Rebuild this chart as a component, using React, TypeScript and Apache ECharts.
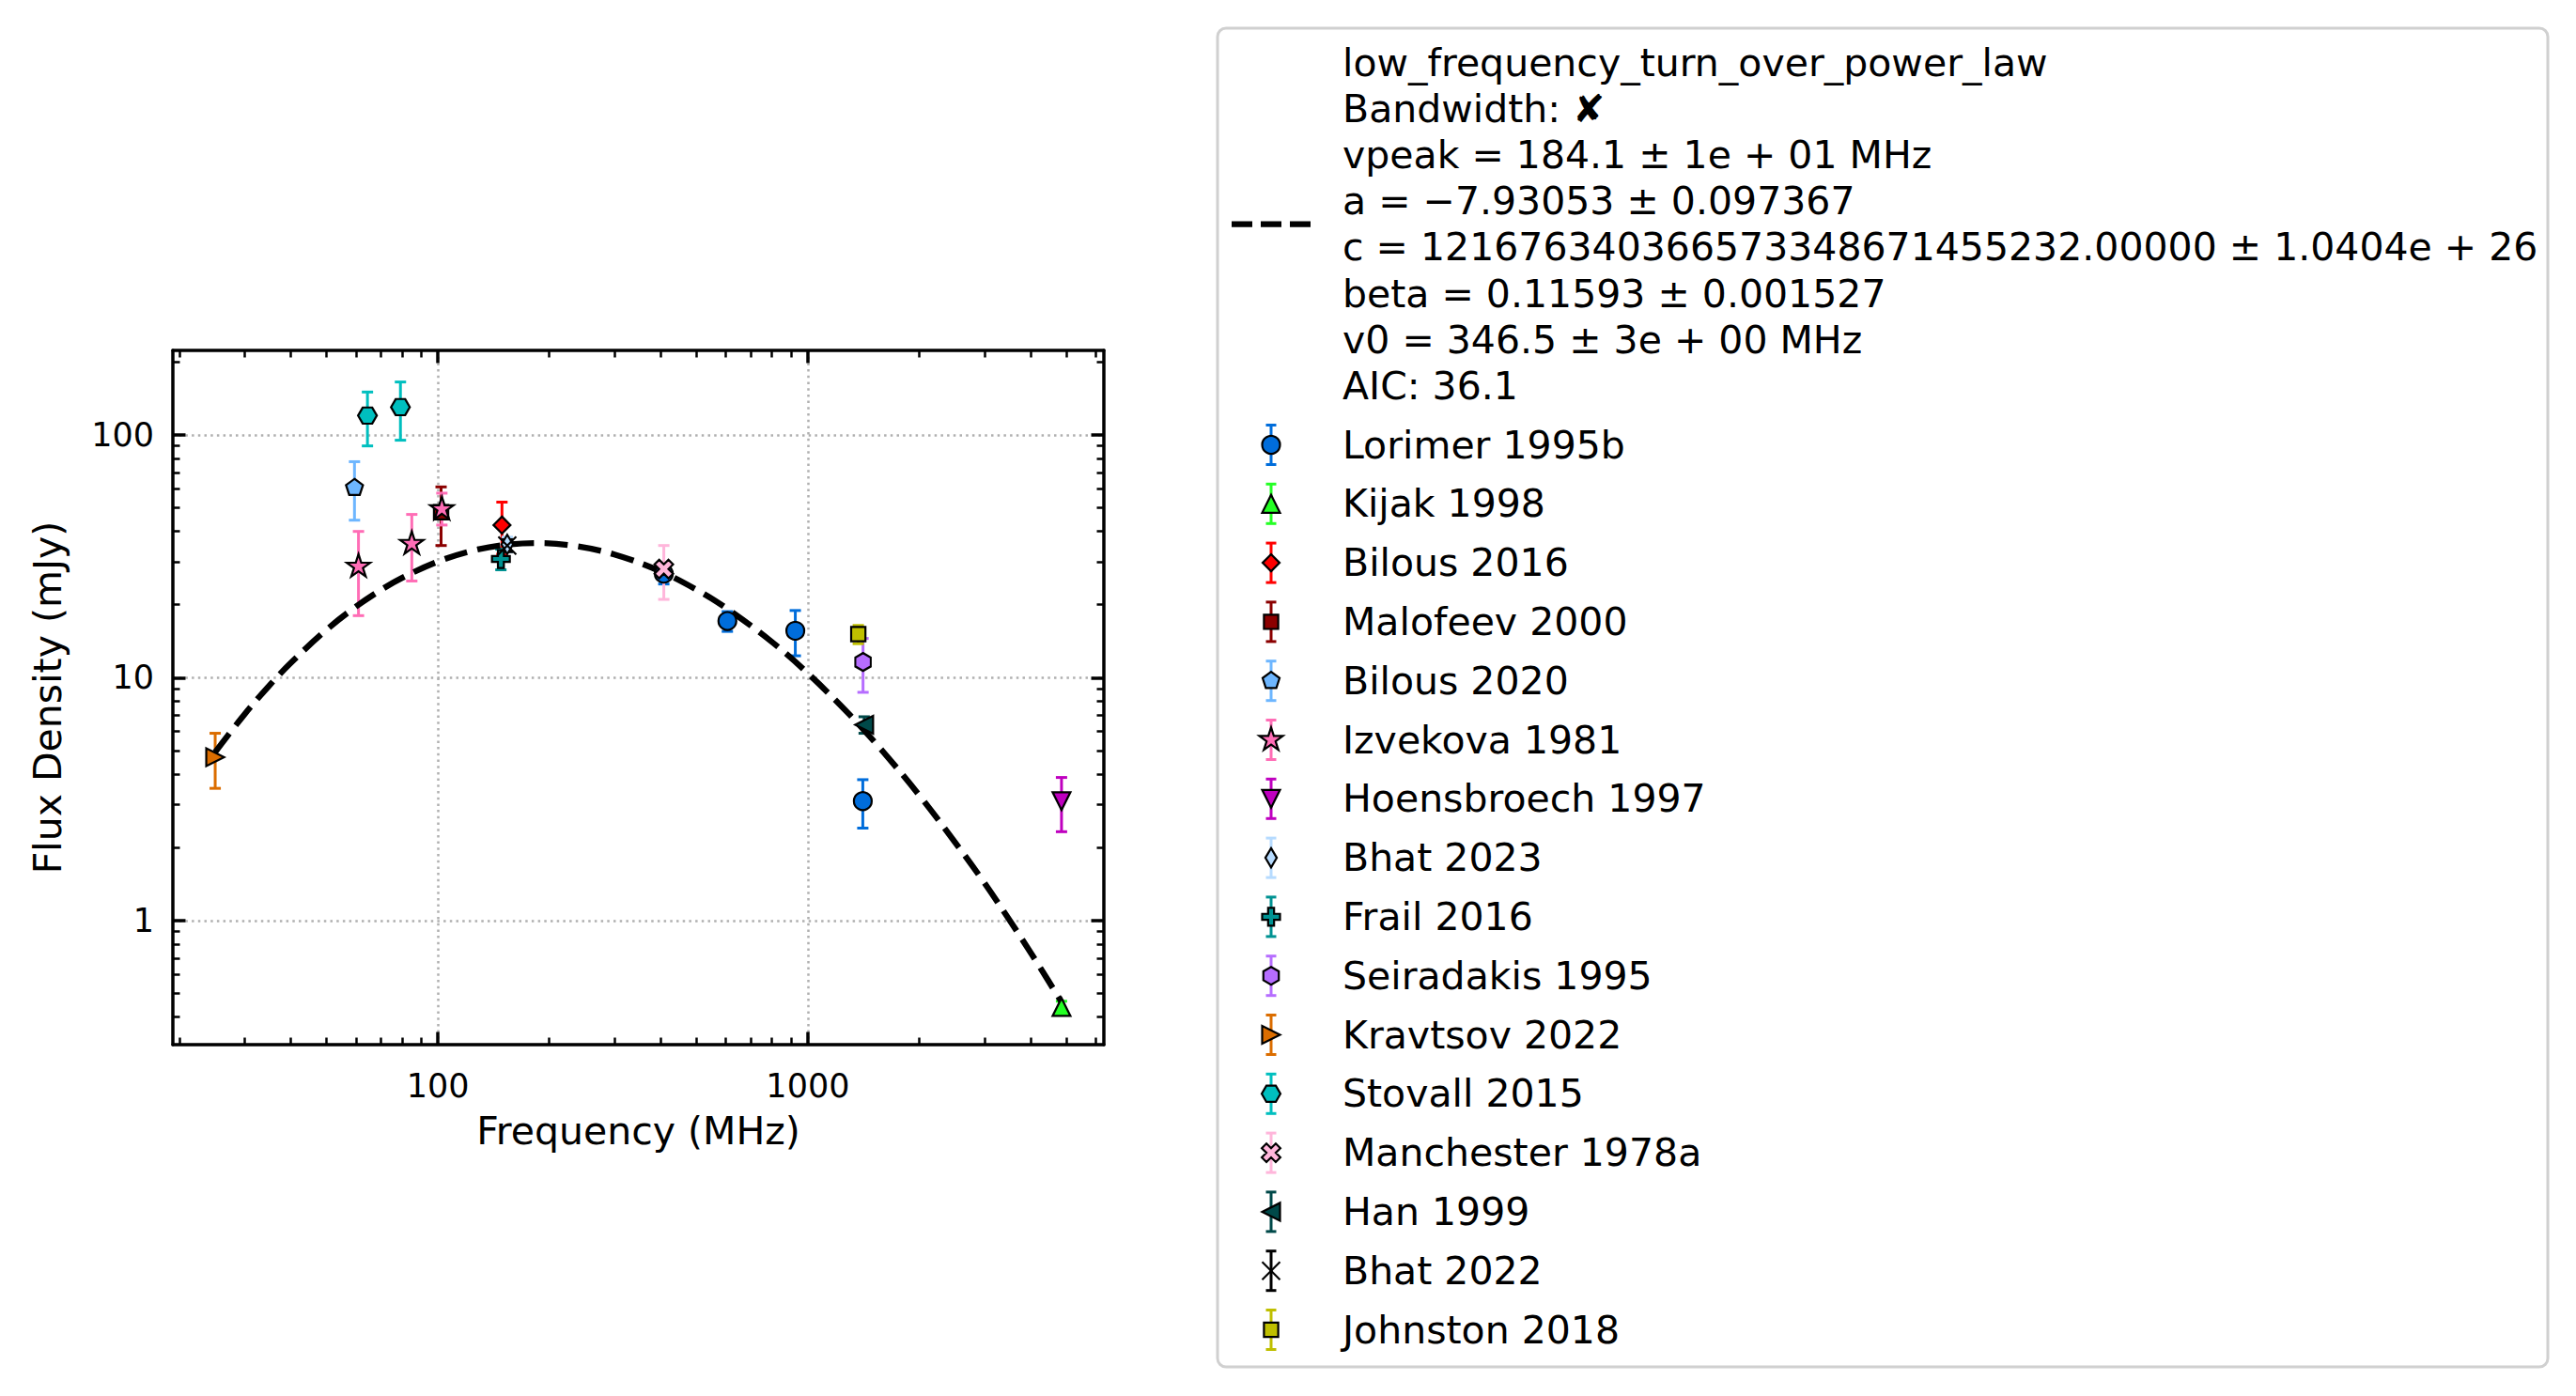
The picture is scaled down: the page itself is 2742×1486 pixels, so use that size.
import React, { useEffect, useRef } from "react";
import * as echarts from "echarts";

// ---------------- axis ranges & ticks ----------------
const X_MIN = 19.21;
const X_MAX = 6313;
const Y_MIN = 0.308;
const Y_MAX = 222.6;

const xMajorTicks = [100, 1000];
const xMinorTicks = [20, 30, 40, 50, 60, 70, 80, 90, 200, 300, 400, 500, 600, 700, 800, 900, 2000, 3000, 4000, 5000, 6000];
const yMajorTicks = [1, 10, 100];
const yMinorTicks = [0.4, 0.5, 0.6, 0.7, 0.8, 0.9, 2, 3, 4, 5, 6, 7, 8, 9, 20, 30, 40, 50, 60, 70, 80, 90, 200];

// ---------------- fitted model curve (mJy) ----------------
const fitFreq = [25, 30, 35, 40, 50, 60, 70, 80, 100, 125, 150, 184.1, 230, 300, 400, 500, 600, 800, 1000, 1300, 1600, 2000, 2500, 3000, 3600, 4200, 4850];
const fitFlux = [4.93, 7.06, 9.27, 11.49, 15.75, 19.59, 22.92, 25.75, 30.06, 33.4, 35.13, 35.83, 35.02, 32.16, 27.38, 23.03, 19.4, 14.02, 10.42, 7.01, 4.94, 3.28, 2.1, 1.43, 0.946, 0.657, 0.461];

const fitLabelLines = [
  "low_frequency_turn_over_power_law",
  "Bandwidth: ✘",
  "vpeak = 184.1 ± 1e + 01 MHz",
  "a = −7.93053 ± 0.097367",
  "c = 121676340366573348671455232.00000 ± 1.0404e + 26",
  "beta = 0.11593 ± 0.001527",
  "v0 = 346.5 ± 3e + 00 MHz",
  "AIC: 36.1",
];

// ---------------- measurements (MHz, mJy, ±mJy) ----------------
const lorimerFreq = [408, 606, 925, 1408];
const lorimerFlux = [26.8, 17.1, 15.6, 3.1];
const lorimerErr = [2.5, 1.6, 3.3, 0.7];

const kijakFreq = [4850];
const kijakFlux = [0.44];
const kijakErr = [0.025];

const bilous16Freq = [149];
const bilous16Flux = [42.5];
const bilous16Err = [10.3];

const malofeevFreq = [102];
const malofeevFlux = [48];
const malofeevErr = [13];

const bilous20Freq = [59.5];
const bilous20Flux = [61];
const bilous20Err = [16.5];

const izvekovaFreq = [61, 85, 102.5];
const izvekovaFlux = [29, 36, 50];
const izvekovaErr = [11, 11, 7.5];

const hoensFreq = [4850];
const hoensFlux = [3.1];
const hoensErr = [0.78];

const bhat23Freq = [154];
const bhat23Flux = [35.4];
const bhat23Err = [2.5];

const frailFreq = [148];
const frailFlux = [30.8];
const frailErr = [3];

const seiradakisFreq = [1410];
const seiradakisFlux = [11.6];
const seiradakisErr = [2.9];

const kravtsovFreq = [25];
const kravtsovFlux = [4.7];
const kravtsovErr = [1.2];

const stovallFreq = [64.5, 79.2];
const stovallFlux = [120, 130];
const stovallErr = [30, 35];

const manchesterFreq = [408];
const manchesterFlux = [28];
const manchesterErr = [7];

const hanFreq = [1420];
const hanFlux = [6.4];
const hanErr = [0.5];

const bhat22Freq = [154];
const bhat22Flux = [35];
const bhat22Err = [2];

const johnstonFreq = [1369];
const johnstonFlux = [15.1];
const johnstonErr = [1.3];

// ---------------- marker geometry ----------------
const U = 9.5; // half marker size in px

function regularPoly(n: number, r: number, startDeg: number) {
  const pts: number[][] = [];
  for (let k = 0; k < n; k++) {
    const a = ((startDeg + (360 * k) / n) * Math.PI) / 180;
    pts.push([r * Math.cos(a), r * Math.sin(a)]);
  }
  return pts;
}
function starPoly(r: number, ri: number) {
  const pts: number[][] = [];
  for (let k = 0; k < 10; k++) {
    const a = ((-90 + 36 * k) * Math.PI) / 180;
    const rr = k % 2 === 0 ? r : ri;
    pts.push([rr * Math.cos(a), rr * Math.sin(a)]);
  }
  return pts;
}
const plusRaw = [[-1, -3], [1, -3], [1, -1], [3, -1], [3, 1], [1, 1], [1, 3], [-1, 3], [-1, 1], [-3, 1], [-3, -1], [-1, -1]];
const xRaw = [[-1, -2], [0, -1], [1, -2], [2, -1], [1, 0], [2, 1], [1, 2], [0, 1], [-1, 2], [-2, 1], [-1, 0], [-2, -1]];

const SHAPES: Record<string, number[][]> = {
  triUp: [[0, -1], [1, 1], [-1, 1]],
  triDown: [[0, 1], [-1, -1], [1, -1]],
  triLeft: [[-1, 0], [1, -1], [1, 1]],
  triRight: [[1, 0], [-1, 1], [-1, -1]],
  square: [[-0.8, -0.8], [0.8, -0.8], [0.8, 0.8], [-0.8, 0.8]],
  diamond: [[0, -0.95], [0.95, 0], [0, 0.95], [-0.95, 0]],
  thinDiamond: [[0, -1.08], [0.64, 0], [0, 1.08], [-0.64, 0]],
  pentagon: regularPoly(5, 1, -90),
  hexPointy: regularPoly(6, 1, -90),
  hexFlat: regularPoly(6, 1.05, 0),
  star: starPoly(1.38, 1.38 * 0.381966),
  plus: plusRaw.map((p) => [p[0] / 3, p[1] / 3]),
  xFilled: xRaw.map((p) => [p[0] * 0.52, p[1] * 0.52]),
};

function pathOf(pts: number[][]) {
  return "path://" + pts.map((p, i) => (i ? "L" : "M") + p[0].toFixed(4) + " " + p[1].toFixed(4)).join(" ") + " Z";
}
function sizeOf(pts: number[][]) {
  const xs = pts.map((p) => p[0]);
  const ys = pts.map((p) => p[1]);
  return [(Math.max(...xs) - Math.min(...xs)) * U, (Math.max(...ys) - Math.min(...ys)) * U];
}

const studies = [
  { name: "Lorimer 1995b", color: "#006ddb", shape: "circle", freq: lorimerFreq, flux: lorimerFlux, err: lorimerErr },
  { name: "Kijak 1998", color: "#24ff24", shape: "triUp", freq: kijakFreq, flux: kijakFlux, err: kijakErr },
  { name: "Bilous 2016", color: "#ff0000", shape: "diamond", freq: bilous16Freq, flux: bilous16Flux, err: bilous16Err },
  { name: "Malofeev 2000", color: "#8b0000", shape: "square", freq: malofeevFreq, flux: malofeevFlux, err: malofeevErr },
  { name: "Bilous 2020", color: "#6db6ff", shape: "pentagon", freq: bilous20Freq, flux: bilous20Flux, err: bilous20Err },
  { name: "Izvekova 1981", color: "#ff6db6", shape: "star", freq: izvekovaFreq, flux: izvekovaFlux, err: izvekovaErr },
  { name: "Hoensbroech 1997", color: "#bf00bf", shape: "triDown", freq: hoensFreq, flux: hoensFlux, err: hoensErr },
  { name: "Bhat 2023", color: "#b6dbff", shape: "thinDiamond", freq: bhat23Freq, flux: bhat23Flux, err: bhat23Err },
  { name: "Frail 2016", color: "#009292", shape: "plus", freq: frailFreq, flux: frailFlux, err: frailErr },
  { name: "Seiradakis 1995", color: "#b66dff", shape: "hexPointy", freq: seiradakisFreq, flux: seiradakisFlux, err: seiradakisErr },
  { name: "Kravtsov 2022", color: "#db6d00", shape: "triRight", freq: kravtsovFreq, flux: kravtsovFlux, err: kravtsovErr },
  { name: "Stovall 2015", color: "#00bfbf", shape: "hexFlat", freq: stovallFreq, flux: stovallFlux, err: stovallErr },
  { name: "Manchester 1978a", color: "#ffb6db", shape: "xFilled", freq: manchesterFreq, flux: manchesterFlux, err: manchesterErr },
  { name: "Han 1999", color: "#004949", shape: "triLeft", freq: hanFreq, flux: hanFlux, err: hanErr },
  { name: "Bhat 2022", color: "#000000", shape: "thinX", freq: bhat22Freq, flux: bhat22Flux, err: bhat22Err },
  { name: "Johnston 2018", color: "#bfbf00", shape: "square", freq: johnstonFreq, flux: johnstonFlux, err: johnstonErr },
];

// ---------------- layout ----------------
const FONT = "DejaVu Sans";
const GRID = { left: 184, top: 373, width: 991, height: 739 };
const MARKER_EDGE = 2.2;
const ERR_W = 3;
const CAP = 6;

const LEG = { x: 1296, y: 30, w: 1416, h: 1425 };
const LEG_TEXT_X = 1429;
const LEG_HANDLE_X = 1353;
const LEG_FIT_Y0 = 66.5;
const LEG_FIT_STEP = 49.2;
const LEG_ROW_Y0 = 473.5;
const LEG_ROW_STEP = 62.8;

function tickLabel(v: number) {
  const l = Math.log10(v);
  return Math.abs(l - Math.round(l)) < 1e-6 ? String(Math.round(v)) : "";
}

function buildLegend() {
  const els: any[] = [];
  els.push({
    type: "rect",
    shape: { x: LEG.x, y: LEG.y, width: LEG.w, height: LEG.h, r: 9 },
    style: { fill: "#ffffff", stroke: "#d0d0d0", lineWidth: 3 },
    silent: true,
  });
  const fitMid = LEG_FIT_Y0 + (LEG_FIT_STEP * (fitLabelLines.length - 1)) / 2;
  els.push({
    type: "line",
    shape: { x1: 1311, y1: fitMid, x2: 1395, y2: fitMid },
    style: { stroke: "#000", lineWidth: 6.3, lineDash: [22, 9] },
    silent: true,
  });
  fitLabelLines.forEach((t, i) => {
    els.push({
      type: "text",
      x: LEG_TEXT_X,
      y: LEG_FIT_Y0 + i * LEG_FIT_STEP,
      style: { text: t, fontSize: 41, fontFamily: FONT, fill: "#000", align: "left", verticalAlign: "middle" },
      silent: true,
    });
  });
  studies.forEach((s, i) => {
    const cy = LEG_ROW_Y0 + i * LEG_ROW_STEP;
    const cx = LEG_HANDLE_X;
    const es = { stroke: s.color, lineWidth: ERR_W };
    els.push({ type: "line", shape: { x1: cx, y1: cy - 21, x2: cx, y2: cy + 21 }, style: es, silent: true });
    els.push({ type: "line", shape: { x1: cx - 5.5, y1: cy - 21, x2: cx + 5.5, y2: cy - 21 }, style: es, silent: true });
    els.push({ type: "line", shape: { x1: cx - 5.5, y1: cy + 21, x2: cx + 5.5, y2: cy + 21 }, style: es, silent: true });
    if (s.shape === "circle") {
      els.push({ type: "circle", shape: { cx, cy, r: U }, style: { fill: s.color, stroke: "#000", lineWidth: MARKER_EDGE }, silent: true });
    } else if (s.shape === "thinX") {
      const st = { stroke: "#000", lineWidth: MARKER_EDGE };
      els.push({ type: "line", shape: { x1: cx - U, y1: cy - U, x2: cx + U, y2: cy + U }, style: st, silent: true });
      els.push({ type: "line", shape: { x1: cx + U, y1: cy - U, x2: cx - U, y2: cy + U }, style: st, silent: true });
    } else {
      const pts = SHAPES[s.shape].map((p) => [cx + p[0] * U, cy + p[1] * U]);
      els.push({ type: "polygon", shape: { points: pts }, style: { fill: s.color, stroke: "#000", lineWidth: MARKER_EDGE, lineJoin: "miter" }, silent: true });
    }
    els.push({
      type: "text",
      x: LEG_TEXT_X,
      y: cy,
      style: { text: s.name, fontSize: 41, fontFamily: FONT, fill: "#000", align: "left", verticalAlign: "middle" },
      silent: true,
    });
  });
  return els;
}

function buildOption() {
  const spine = { show: true, onZero: false, lineStyle: { color: "#000", width: 3.5 } };
  const majorTick = (vals: number[]) => ({ show: true, inside: true, length: 13.5, lineStyle: { color: "#000", width: 3.5 }, customValues: vals });
  const minorTick = (vals: number[]) => ({ show: true, inside: true, length: 7.5, lineStyle: { color: "#000", width: 2.5 }, customValues: vals });
  const gridLine = { show: true, lineStyle: { color: "#b0b0b0", width: 2.5, type: [2.5, 4.2] } };
  const xBase = { type: "log", logBase: 10, min: X_MIN, max: X_MAX, minorTick: { show: false }, minorSplitLine: { show: false } };
  const yBase = { type: "log", logBase: 10, min: Y_MIN, max: Y_MAX, minorTick: { show: false }, minorSplitLine: { show: false } };

  const series: any[] = [];
  series.push({
    type: "line",
    name: "fit",
    xAxisIndex: 0,
    yAxisIndex: 0,
    data: fitFreq.map((f, i) => [f, fitFlux[i]]),
    showSymbol: false,
    symbol: "none",
    smooth: 0.35,
    lineStyle: { color: "#000", width: 6.3, type: [25, 11] },
    silent: true,
    z: 2,
  });
  studies.forEach((s) => {
    const color = s.color;
    series.push({
      type: "custom",
      name: s.name + " err",
      xAxisIndex: 0,
      yAxisIndex: 0,
      data: s.freq.map((f, i) => [f, s.flux[i], s.err[i]]),
      encode: { x: 0, y: 1 },
      silent: true,
      z: 2,
      renderItem: (params: any, api: any) => {
        const x = api.value(0);
        const y = api.value(1);
        const e = api.value(2);
        const top = api.coord([x, y + e]);
        const bot = api.coord([x, y - e]);
        const style = { stroke: color, lineWidth: ERR_W, fill: "none" };
        return {
          type: "group",
          children: [
            { type: "line", shape: { x1: top[0], y1: top[1], x2: bot[0], y2: bot[1] }, style },
            { type: "line", shape: { x1: top[0] - CAP, y1: top[1], x2: top[0] + CAP, y2: top[1] }, style },
            { type: "line", shape: { x1: bot[0] - CAP, y1: bot[1], x2: bot[0] + CAP, y2: bot[1] }, style },
          ],
        };
      },
    });
    let symbol: any;
    let symbolSize: any;
    let itemStyle: any;
    if (s.shape === "circle") {
      symbol = "circle";
      symbolSize = 2 * U;
      itemStyle = { color, borderColor: "#000", borderWidth: MARKER_EDGE, opacity: 1 };
    } else if (s.shape === "thinX") {
      symbol = "path://M-1 -1 L1 1 M1 -1 L-1 1";
      symbolSize = [2 * U, 2 * U];
      itemStyle = { color: "rgba(0,0,0,0)", borderColor: "#000", borderWidth: MARKER_EDGE, opacity: 1 };
    } else {
      const pts = SHAPES[s.shape];
      symbol = pathOf(pts);
      symbolSize = sizeOf(pts);
      itemStyle = { color, borderColor: "#000", borderWidth: MARKER_EDGE, opacity: 1, borderJoin: "miter" };
    }
    series.push({
      type: "scatter",
      name: s.name,
      xAxisIndex: 0,
      yAxisIndex: 0,
      data: s.freq.map((f, i) => [f, s.flux[i]]),
      symbol,
      symbolSize,
      itemStyle,
      silent: true,
      z: 2,
    });
  });

  return {
    animation: false,
    backgroundColor: "#ffffff",
    textStyle: { fontFamily: FONT },
    grid: [
      { left: GRID.left, top: GRID.top, width: GRID.width, height: GRID.height, containLabel: false },
      { left: GRID.left, top: GRID.top, width: GRID.width, height: GRID.height, containLabel: false },
    ],
    xAxis: [
      {
        ...xBase,
        gridIndex: 0,
        position: "bottom",
        name: "Frequency (MHz)",
        nameLocation: "middle",
        nameGap: 71,
        nameTextStyle: { fontSize: 41, fontFamily: FONT, color: "#000" },
        axisLine: spine,
        axisTick: majorTick(xMajorTicks),
        axisLabel: { show: true, customValues: xMajorTicks, formatter: tickLabel, fontSize: 35, fontFamily: FONT, color: "#000", margin: 26 },
        splitLine: gridLine,
      },
      {
        ...xBase,
        gridIndex: 0,
        position: "top",
        axisLine: spine,
        axisTick: majorTick(xMajorTicks),
        axisLabel: { show: false },
        splitLine: { show: false },
      },
      {
        ...xBase,
        gridIndex: 1,
        position: "bottom",
        axisLine: { show: false },
        axisTick: minorTick(xMinorTicks),
        axisLabel: { show: false },
        splitLine: { show: false },
      },
      {
        ...xBase,
        gridIndex: 1,
        position: "top",
        axisLine: { show: false },
        axisTick: minorTick(xMinorTicks),
        axisLabel: { show: false },
        splitLine: { show: false },
      },
    ],
    yAxis: [
      {
        ...yBase,
        gridIndex: 0,
        position: "left",
        name: "Flux Density (mJy)",
        nameLocation: "middle",
        nameGap: 113,
        nameRotate: 90,
        nameTextStyle: { fontSize: 41, fontFamily: FONT, color: "#000" },
        axisLine: spine,
        axisTick: majorTick(yMajorTicks),
        axisLabel: { show: true, customValues: yMajorTicks, formatter: tickLabel, fontSize: 35, fontFamily: FONT, color: "#000", margin: 20 },
        splitLine: gridLine,
      },
      {
        ...yBase,
        gridIndex: 0,
        position: "right",
        axisLine: spine,
        axisTick: majorTick(yMajorTicks),
        axisLabel: { show: false },
        splitLine: { show: false },
      },
      {
        ...yBase,
        gridIndex: 1,
        position: "left",
        axisLine: { show: false },
        axisTick: minorTick(yMinorTicks),
        axisLabel: { show: false },
        splitLine: { show: false },
      },
      {
        ...yBase,
        gridIndex: 1,
        position: "right",
        axisLine: { show: false },
        axisTick: minorTick(yMinorTicks),
        axisLabel: { show: false },
        splitLine: { show: false },
      },
    ],
    series,
    graphic: { elements: buildLegend() },
  };
}

export default function App() {
  const ref = useRef<HTMLDivElement>(null);
  useEffect(() => {
    if (!ref.current) return;
    const chart = echarts.init(ref.current, undefined, { renderer: "svg" });
    chart.setOption(buildOption() as any);
    return () => {
      chart.dispose();
    };
  }, []);
  return (
    <div
      ref={ref}
      style={{ position: "absolute", left: 0, top: 0, width: 2742, height: 1486, background: "#fff" }}
    />
  );
}
